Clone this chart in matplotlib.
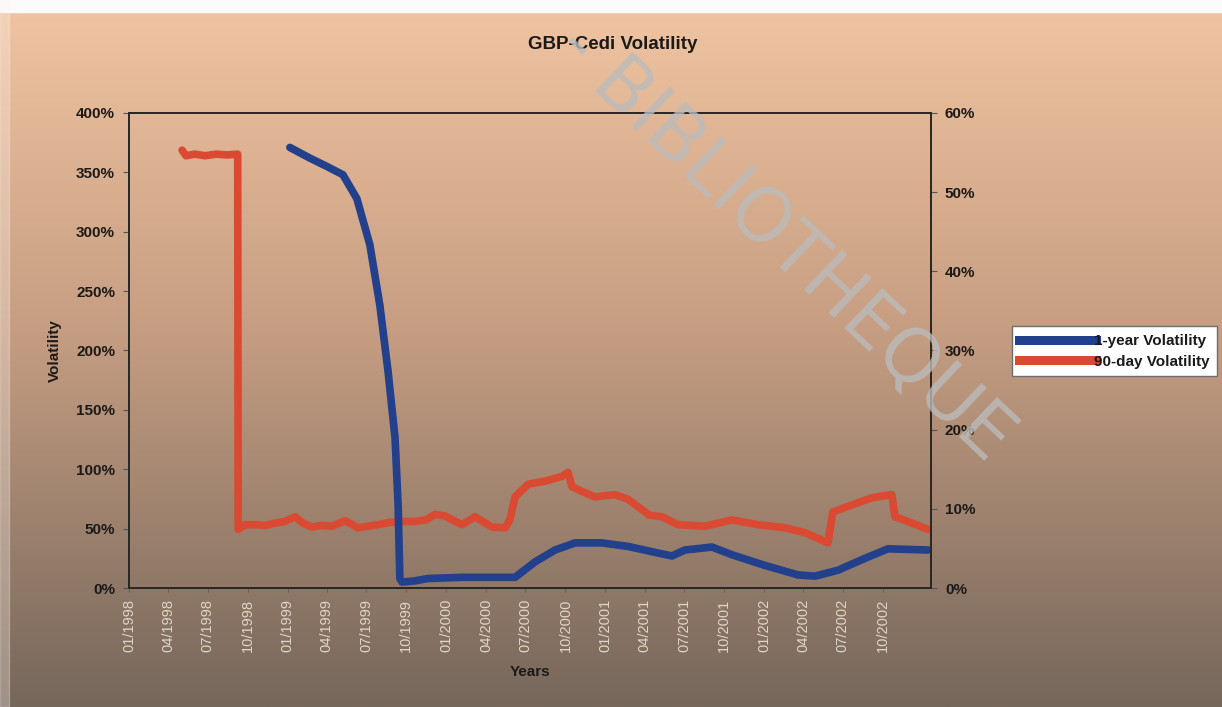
import numpy as np
import pandas as pd
import matplotlib
matplotlib.use("Agg")
import matplotlib.pyplot as plt
import matplotlib.dates as mdates
import matplotlib.ticker as mticker
from matplotlib.colors import LinearSegmentedColormap
from matplotlib.lines import Line2D

plt.rcParams["font.family"] = ["Liberation Sans", "DejaVu Sans"]

# ── Data ───────────────────────────────────────────────────────────────────

# 1-year volatility (left axis, %)
one_year_dates = [
    "1999-01-06", "1999-02-21", "1999-04-01", "1999-05-08", "1999-06-09",
    "1999-07-09", "1999-08-01", "1999-08-20", "1999-09-05", "1999-09-12",
    "1999-09-16", "1999-09-21", "1999-10-20", "1999-11-20", "2000-02-06",
    "2000-06-07", "2000-07-23", "2000-09-07", "2000-10-23", "2000-12-24",
    "2001-02-22", "2001-04-25", "2001-06-03", "2001-07-03", "2001-09-03",
    "2001-10-19", "2002-01-03", "2002-03-20", "2002-04-28", "2002-06-20",
    "2002-08-21", "2002-10-13", "2003-01-13",
]
one_year_vol = [
    371, 362, 355, 348, 328,
    289, 238, 182, 126, 70,
    8, 5, 6, 8, 9,
    9, 22, 32, 38, 38,
    35, 30, 27, 32, 34.5,
    28, 19, 11, 10, 15,
    25, 33, 32,
]

# 90-day volatility (right axis, %)
ninety_day_dates = [
    "1998-05-03", "1998-05-12", "1998-06-01", "1998-06-25", "1998-07-20",
    "1998-08-15", "1998-09-08", "1998-09-09", "1998-09-25", "1998-10-20",
    "1998-11-10", "1998-12-03", "1998-12-25", "1999-01-18", "1999-02-05",
    "1999-02-26", "1999-03-20", "1999-04-13", "1999-05-13", "1999-06-12",
    "1999-07-05", "1999-07-28", "1999-08-25", "1999-09-21", "1999-10-21",
    "1999-11-15", "1999-12-06", "1999-12-29", "2000-01-15", "2000-02-06",
    "2000-03-07", "2000-03-25", "2000-04-15", "2000-05-15", "2000-05-26",
    "2000-06-07", "2000-06-20", "2000-07-07", "2000-08-15", "2000-09-23",
    "2000-10-07", "2000-10-16", "2000-11-08", "2000-12-08", "2001-01-23",
    "2001-02-22", "2001-03-26", "2001-04-12", "2001-05-11", "2001-06-17",
    "2001-08-18", "2001-10-19", "2001-12-18", "2002-02-18", "2002-04-05",
    "2002-05-28", "2002-06-08", "2002-07-22", "2002-09-06", "2002-10-22",
    "2002-10-29", "2002-11-28", "2003-01-13",
]
ninety_day_vol = [
    55.3, 54.6, 54.8, 54.6, 54.8,
    54.7, 54.8, 7.4, 8.0, 8.0,
    7.9, 8.2, 8.4, 9.0, 8.2,
    7.7, 7.9, 7.8, 8.5, 7.6,
    7.8, 8.0, 8.3, 8.4, 8.4,
    8.6, 9.3, 9.1, 8.6, 8.0,
    9.0, 8.4, 7.7, 7.6, 8.6,
    11.5, 12.2, 13.1, 13.5, 14.1,
    14.6, 12.8, 12.2, 11.5, 11.8,
    11.2, 9.9, 9.2, 9.0, 8.0,
    7.8, 8.6, 8.0, 7.6, 7.0,
    5.7, 9.6, 10.5, 11.4, 11.8,
    9.0, 8.4, 7.4,
]

left_ticks = [0, 50, 100, 150, 200, 250, 300, 350, 400]
right_ticks = [0, 10, 20, 30, 40, 50, 60]
x_start, x_end = "1998-01-01", "2003-01-20"
x_ticks = pd.date_range("1998-01-01", "2002-10-01", freq="QS")

BLUE = "#22408c"
RED = "#da4a33"
INK = "#1c1a18"

# ── Figure & background ───────────────────────────────────────────────────

fig = plt.figure(figsize=(12.22, 7.07), dpi=100)

bg = fig.add_axes([0, 0, 1, 1], zorder=-10)
bg_cmap = LinearSegmentedColormap.from_list(
    "bg", [(0.0, "#f1c5a2"), (0.45, "#c89f83"), (1.0, "#76675b")])
grad = np.linspace(0, 1, 256).reshape(-1, 1)
bg.imshow(grad, aspect="auto", cmap=bg_cmap, extent=[0, 1, 0, 1], origin="upper")
# pale scan margins
bg.axhspan(0.983, 1.0, color="#fbfbfb")
bg.axvspan(0.0, 0.007, color="#fbf4ee", alpha=0.3)
bg.set_xlim(0, 1)
bg.set_ylim(0, 1)
bg.axis("off")

ax = fig.add_axes([0.1056, 0.1683, 0.6563, 0.6719])
ax2 = ax.twinx()
ax.set_zorder(ax2.get_zorder() + 1)
ax.patch.set_visible(False)
ax2.patch.set_facecolor("white")

ax.plot(pd.to_datetime(one_year_dates), one_year_vol,
        color=BLUE, linewidth=5.5, solid_capstyle="round", solid_joinstyle="round")
ax2.plot(pd.to_datetime(ninety_day_dates), ninety_day_vol,
         color=RED, linewidth=5.5, solid_capstyle="round", solid_joinstyle="round")

ax.set_xlim(pd.Timestamp(x_start), pd.Timestamp(x_end))
ax.set_ylim(0, 400)
ax2.set_ylim(0, 60)

ax.set_yticks(left_ticks)
ax2.set_yticks(right_ticks)
pct = mticker.FuncFormatter(lambda v, _: f"{v:.0f}%")
ax.yaxis.set_major_formatter(pct)
ax2.yaxis.set_major_formatter(pct)

ax.set_xticks(x_ticks)
ax.xaxis.set_major_formatter(mdates.DateFormatter("%m/%Y"))

for a in (ax, ax2):
    for side in ("left", "right", "top", "bottom"):
        a.spines[side].set_color("#2a2826")
        a.spines[side].set_linewidth(1.3)

ax.tick_params(axis="y", direction="out", length=4, color="#555",
               labelsize=11, labelcolor=INK, pad=6)
ax2.tick_params(axis="y", direction="out", length=4, color="#555",
                labelsize=11, labelcolor=INK, pad=6)
for lbl in ax.get_yticklabels() + ax2.get_yticklabels():
    lbl.set_fontweight("bold")
ax.tick_params(axis="x", direction="out", length=3, color="#6d6158",
               labelsize=10.5, labelcolor="#e0d5c9", rotation=90, pad=5)

ax.set_ylabel("Volatility", fontsize=11, fontweight="bold", color=INK, labelpad=10)
ax.set_xlabel("Years", fontsize=11, fontweight="bold", color=INK, labelpad=9)
fig.text(0.501, 0.937, "GBP-Cedi Volatility", ha="center", va="center",
         fontsize=13.5, fontweight="bold", color=INK)

handles = [Line2D([], [], color=BLUE, linewidth=6.5),
           Line2D([], [], color=RED, linewidth=6.5)]
leg = fig.legend(handles, ["1-year Volatility", "90-day Volatility"],
                 loc="center left", bbox_to_anchor=(0.828, 0.503),
                 prop={"size": 11, "weight": "bold"},
                 handlelength=5.0, handletextpad=-0.15, labelspacing=0.45,
                 borderpad=0.5, borderaxespad=0, fancybox=False,
                 framealpha=1, facecolor="white", edgecolor="#6e6e6e")
leg.get_frame().set_linewidth(1.0)
for t in leg.get_texts():
    t.set_color(INK)

# library stamp across the page
fig.text(1001 / 1222, 1 - 449 / 707, "- BIBLIOTHEQUE", rotation=-43.5,
         rotation_mode="anchor", ha="right", va="center",
         fontsize=53, family="DejaVu Sans", color="#bbbbbb", alpha=0.8,
         zorder=50)

fig.savefig("out.png", dpi=100)
